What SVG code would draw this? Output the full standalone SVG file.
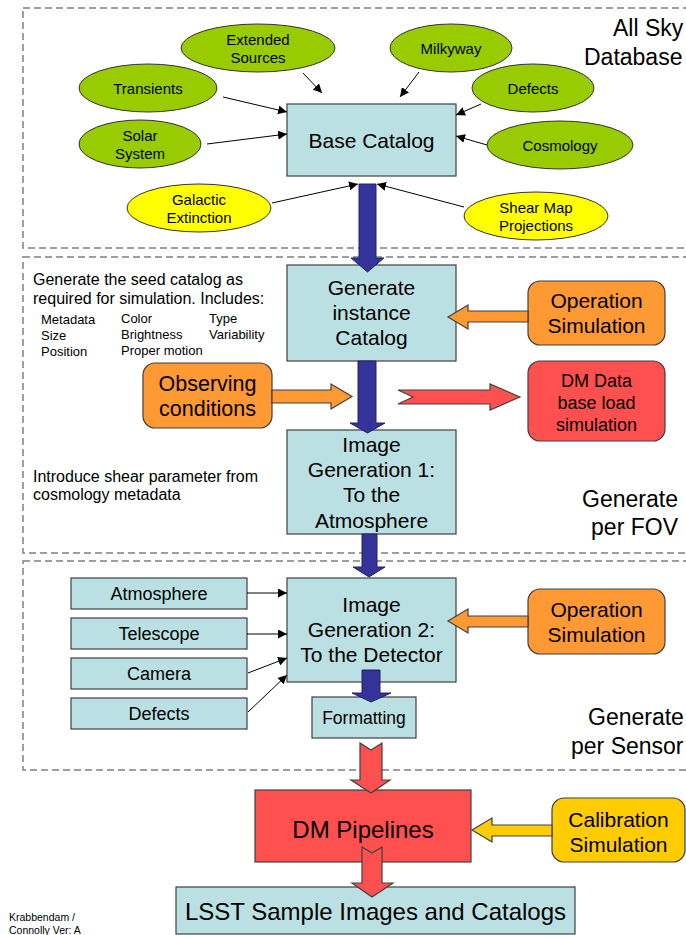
<svg xmlns="http://www.w3.org/2000/svg" width="686" height="935" viewBox="0 0 686 935">
<style>
text{font-family:"Liberation Sans",Arial,sans-serif;fill:#000}
.sec{fill:none;stroke:#808080;stroke-width:1.5;stroke-dasharray:7,4}
.box{fill:#BBE0E3;stroke:#404040;stroke-width:1.2}
.ell{fill:#99CC00;stroke:#333;stroke-width:1}
.yel{fill:#FFFF00;stroke:#333;stroke-width:1}
.org{fill:#FF9933;stroke:#404040;stroke-width:1.2}
.red{fill:#FF5050;stroke:#404040;stroke-width:1.2}
.gold{fill:#FFCC00;stroke:#404040;stroke-width:1.2}
.blue{fill:#333399;stroke:#222266;stroke-width:1}
.thin{fill:none;stroke:#000;stroke-width:1;marker-end:url(#ah)}
.c{text-anchor:middle}
</style>
<defs>
<marker id="ah" viewBox="0 0 10 10" refX="10" refY="5" markerWidth="9" markerHeight="9" markerUnits="userSpaceOnUse" orient="auto">
<path d="M0,0 L10,5 L0,10 z" fill="#000"/>
</marker>
</defs>

<g id="sections">
<rect class="sec" x="23" y="8" width="700" height="240"/>
<rect class="sec" x="23" y="257" width="700" height="296"/>
<rect class="sec" x="23" y="561" width="700" height="209"/>
<text x="613" y="36" font-size="23">All Sky</text>
<text x="584" y="65" font-size="23">Database</text>
<text x="678" y="507" font-size="23" text-anchor="end">Generate</text>
<text x="678" y="535" font-size="23" text-anchor="end">per FOV</text>
<text x="588" y="725" font-size="23">Generate</text>
<text x="571" y="754" font-size="23">per Sensor</text>
</g>

<g id="notes">
<text x="33" y="285" font-size="16">Generate the seed catalog as</text>
<text x="33" y="304" font-size="16">required for simulation. Includes:</text>
<text x="41" y="324" font-size="13">Metadata</text>
<text x="41" y="340" font-size="13">Size</text>
<text x="41" y="356" font-size="13">Position</text>
<text x="121" y="323" font-size="13">Color</text>
<text x="121" y="339" font-size="13">Brightness</text>
<text x="121" y="355" font-size="13">Proper motion</text>
<text x="209" y="323" font-size="13">Type</text>
<text x="209" y="339" font-size="13">Variability</text>
<text x="33" y="482" font-size="16">Introduce shear parameter from</text>
<text x="33" y="500" font-size="16">cosmology metadata</text>
<text x="9" y="921" font-size="10.5">Krabbendam /</text>
<text x="9" y="934" font-size="10.5">Connolly Ver: A</text>
</g>

<g id="ext-sources"><ellipse class="ell" cx="258" cy="48" rx="77" ry="24"/><text class="c" x="258" y="45" font-size="15">Extended</text><text class="c" x="258" y="63" font-size="15">Sources</text></g>
<g id="transients"><ellipse class="ell" cx="148" cy="88" rx="69" ry="24"/><text class="c" x="148" y="94" font-size="15">Transients</text></g>
<g id="solar"><ellipse class="ell" cx="140" cy="144" rx="61" ry="24"/><text class="c" x="140" y="141" font-size="15">Solar</text><text class="c" x="140" y="159" font-size="15">System</text></g>
<g id="galactic"><ellipse class="yel" cx="199" cy="208" rx="72" ry="24"/><text class="c" x="199" y="205" font-size="15">Galactic</text><text class="c" x="199" y="223" font-size="15">Extinction</text></g>
<g id="milkyway"><ellipse class="ell" cx="451" cy="48" rx="61" ry="24"/><text class="c" x="451" y="54" font-size="15">Milkyway</text></g>
<g id="defects-e"><ellipse class="ell" cx="533" cy="88" rx="61" ry="24"/><text class="c" x="533" y="94" font-size="15">Defects</text></g>
<g id="cosmology"><ellipse class="ell" cx="560" cy="145" rx="73" ry="24"/><text class="c" x="560" y="151" font-size="15">Cosmology</text></g>
<g id="shear"><ellipse class="yel" cx="536" cy="216" rx="72" ry="24"/><text class="c" x="536" y="213" font-size="15">Shear Map</text><text class="c" x="536" y="231" font-size="15">Projections</text></g>

<g id="base-catalog"><rect class="box" x="287" y="104" width="169" height="72"/><text class="c" x="371.5" y="148" font-size="21">Base Catalog</text></g>

<g id="gen-instance"><rect class="box" x="287" y="265" width="169" height="96"/><text class="c" x="371.5" y="295" font-size="21">Generate</text><text class="c" x="371.5" y="320" font-size="21">instance</text><text class="c" x="371.5" y="345" font-size="21">Catalog</text></g>
<g id="opsim1"><rect class="org" x="528" y="281" width="137" height="64" rx="12"/><text class="c" x="596.5" y="308" font-size="21">Operation</text><text class="c" x="596.5" y="333" font-size="21">Simulation</text></g>
<g id="observing"><rect class="org" x="143" y="363" width="129" height="65" rx="12"/><text class="c" x="207.5" y="391" font-size="21.5">Observing</text><text class="c" x="207.5" y="416" font-size="21.5">conditions</text></g>
<g id="dm-db"><rect class="red" x="528" y="361" width="137" height="80" rx="12"/><text class="c" x="596.5" y="387" font-size="18">DM Data</text><text class="c" x="596.5" y="409" font-size="18">base load</text><text class="c" x="596.5" y="431" font-size="18">simulation</text></g>
<g id="imggen1"><rect class="box" x="287" y="430" width="169" height="104"/><text class="c" x="371.5" y="452" font-size="21">Image</text><text class="c" x="371.5" y="477" font-size="21">Generation 1:</text><text class="c" x="371.5" y="502" font-size="21">To the</text><text class="c" x="371.5" y="528" font-size="21">Atmosphere</text></g>

<g id="atmosphere"><rect class="box" x="71" y="578" width="176" height="31"/><text class="c" x="159" y="600" font-size="18">Atmosphere</text></g>
<g id="telescope"><rect class="box" x="71" y="618" width="176" height="31"/><text class="c" x="159" y="640" font-size="18">Telescope</text></g>
<g id="camera"><rect class="box" x="71" y="658" width="176" height="31"/><text class="c" x="159" y="680" font-size="18">Camera</text></g>
<g id="defects-b"><rect class="box" x="71" y="698" width="176" height="31"/><text class="c" x="159" y="720" font-size="18">Defects</text></g>
<g id="imggen2"><rect class="box" x="287" y="578" width="169" height="104"/><text class="c" x="371.5" y="612" font-size="21">Image</text><text class="c" x="371.5" y="637" font-size="21">Generation 2:</text><text class="c" x="371.5" y="662" font-size="21">To the Detector</text></g>
<g id="opsim2"><rect class="org" x="528" y="589" width="137" height="65" rx="12"/><text class="c" x="596.5" y="617" font-size="21">Operation</text><text class="c" x="596.5" y="642" font-size="21">Simulation</text></g>
<g id="formatting"><rect class="box" x="312" y="697" width="104" height="41"/><text class="c" x="364" y="724" font-size="17.5">Formatting</text></g>

<g id="dm-pipelines"><rect class="red" x="255" y="790" width="216" height="72"/><text class="c" x="363" y="838" font-size="24">DM Pipelines</text></g>
<g id="calib"><rect class="gold" x="552" y="798" width="133" height="64" rx="12"/><text class="c" x="618.5" y="827" font-size="21">Calibration</text><text class="c" x="618.5" y="852" font-size="21">Simulation</text></g>
<g id="lsst"><rect class="box" x="176" y="887" width="399" height="47"/><text class="c" x="375.5" y="920" font-size="24">LSST Sample Images and Catalogs</text></g>

<g id="connectors">
<line class="thin" x1="303" y1="73" x2="322" y2="93"/>
<line class="thin" x1="223" y1="97" x2="287" y2="112"/>
<line class="thin" x1="207" y1="144" x2="287" y2="134"/>
<line class="thin" x1="272" y1="203" x2="358" y2="184"/>
<line class="thin" x1="464" y1="207" x2="377" y2="184"/>
<line class="thin" x1="419" y1="72" x2="400" y2="97"/>
<line class="thin" x1="481" y1="104" x2="456" y2="115"/>
<line class="thin" x1="487" y1="145" x2="456" y2="136"/>
<line class="thin" x1="247" y1="593" x2="287" y2="593"/>
<line class="thin" x1="247" y1="634" x2="287" y2="634"/>
<line class="thin" x1="248" y1="673" x2="287" y2="658"/>
<line class="thin" x1="248" y1="712" x2="287" y2="675"/>
<polygon class="blue" points="359,184 376,184 376,258 384,258 367.5,272 351,258 359,258"/>
<polygon class="blue" points="358,361 376,361 376,423 385,423 367.5,433 350,423 358,423"/>
<polygon class="blue" points="362,534 377,534 377,567 385,567 369,577 353,567 362,567"/>
<polygon class="blue" points="362,670 380,670 380,693 391,693 371,702 352,693 362,693"/>
<polygon class="org" points="528,311 468,311 468,305 448,317 468,329 468,322 528,322"/>
<polygon class="org" points="272,390 331,390 331,384 352,396.5 331,409 331,403 272,403"/>
<polygon class="red" points="398,390 490,390 490,384 520,397 490,410 490,404 398,404 413,397"/>
<polygon class="org" points="528,616 468,616 468,609 448,621 468,633 468,627 528,627"/>
<polygon class="red" points="360,743 371,750 382,743 382,780 390,780 371,793 351,780 360,780"/>
<polygon class="red" points="362,847 372,853 382,847 382,883 393,883 372,897 352,883 362,883"/>
<polygon class="gold" points="552,825 492,825 492,818 472,830 492,842 492,836 552,836"/>
</g>
</svg>
